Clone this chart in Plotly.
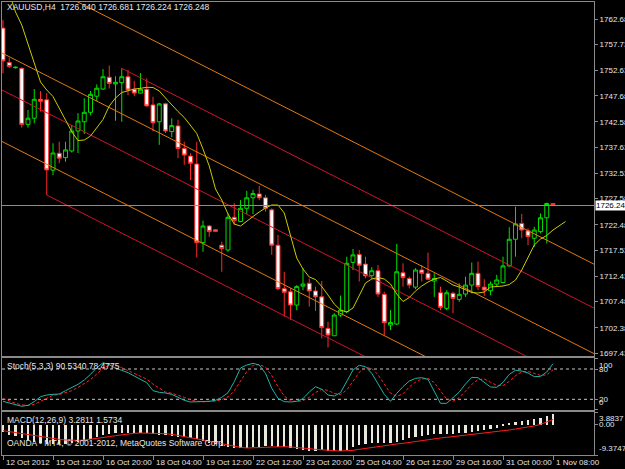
import plotly.graph_objects as go

# ---------------- data ----------------
bars = list(range(89))
opens = [1760.9, 1754.2, 1753.15, 1753.05, 1742.1, 1743.3, 1747.0, 1746.9, 1733.15, 1736.45,
         1735.6, 1736.9, 1740.8, 1742.6, 1744.45, 1747.6, 1749.0, 1751.3, 1750.0, 1750.25,
         1751.4, 1748.95, 1748.2, 1748.95, 1745.9, 1742.6, 1746.1, 1740.7, 1741.8, 1737.4,
         1735.9, 1734.35, 1719.0, 1722.25, 1721.5, 1718.5, 1717.55, 1723.95, 1723.1, 1725.7,
         1727.75, 1728.5, 1727.75, 1725.4, 1718.5, 1710.0, 1709.4, 1706.8, 1710.5, 1711.05,
         1709.55, 1708.4, 1702.25, 1700.8, 1704.85, 1705.5, 1715.15, 1716.7, 1714.8, 1712.55,
         1713.5, 1708.9, 1702.9, 1703.1, 1713.1, 1712.0, 1710.3, 1713.65, 1713.0, 1711.5,
         1709.2, 1706.15, 1709.1, 1707.9, 1708.95, 1710.7, 1713.0, 1710.3, 1709.6, 1710.9,
         1711.2, 1714.45, 1719.65, 1722.75, 1721.3, 1719.85, 1721.15, 1723.85, 1726.640]
highs = [1762.5, 1755.1, 1753.4, 1753.2, 1744.9, 1749.0, 1748.6, 1748.2, 1738.4, 1738.7,
         1738.7, 1742.0, 1744.3, 1747.2, 1748.6, 1749.9, 1752.9, 1753.6, 1751.5, 1753.05,
         1752.7, 1750.6, 1752.1, 1751.1, 1747.5, 1746.3, 1746.3, 1743.3, 1743.0, 1738.7,
         1736.45, 1738.7, 1723.3, 1722.45, 1721.6, 1719.2, 1724.7, 1726.7, 1727.3, 1729.1,
         1729.3, 1730.1, 1728.3, 1725.7, 1720.5, 1713.3, 1710.1, 1710.7, 1714.0, 1712.0,
         1710.4, 1711.5, 1703.55, 1705.2, 1708.65, 1716.25, 1717.75, 1717.55, 1716.25, 1714.2,
         1714.6, 1709.4, 1705.8, 1718.75, 1714.95, 1712.35, 1714.0, 1714.6, 1717.05, 1713.0,
         1710.4, 1709.7, 1709.4, 1711.05, 1712.35, 1715.1, 1715.3, 1711.85, 1711.4, 1712.7,
         1716.25, 1722.0, 1726.0, 1724.6, 1721.8, 1722.1, 1724.7, 1726.8, 1726.681]
lows = [1752.1, 1753.1, 1753.0, 1741.45, 1741.45, 1742.3, 1744.6, 1728.3, 1732.2, 1734.5,
        1734.8, 1736.6, 1736.5, 1740.2, 1743.9, 1746.65, 1748.8, 1749.1, 1742.8, 1742.6,
        1747.8, 1747.6, 1748.1, 1745.55, 1740.7, 1738.1, 1740.4, 1739.6, 1735.5, 1734.2,
        1731.2, 1716.1, 1717.2, 1720.15, 1721.1, 1713.3, 1717.2, 1722.45, 1723.0, 1724.55,
        1724.6, 1727.3, 1725.05, 1716.6, 1709.7, 1704.5, 1703.9, 1705.8, 1709.7, 1706.5,
        1705.65, 1700.3, 1698.5, 1700.8, 1704.5, 1705.2, 1713.65, 1711.4, 1712.05, 1711.85,
        1708.4, 1700.95, 1701.9, 1702.9, 1710.4, 1710.05, 1709.9, 1711.4, 1711.7, 1708.4,
        1705.8, 1705.8, 1705.2, 1707.45, 1708.4, 1709.1, 1709.7, 1708.6, 1708.75, 1710.4,
        1711.05, 1714.3, 1716.25, 1719.85, 1718.5, 1718.2, 1720.8, 1718.85, 1726.224]
closes = [1754.5, 1753.4, 1753.25, 1742.1, 1743.3, 1747.0, 1746.6, 1733.2, 1736.5, 1735.5,
          1737.1, 1740.8, 1742.75, 1744.45, 1747.95, 1749.15, 1751.4, 1750.1, 1750.3, 1751.4,
          1748.8, 1748.2, 1748.95, 1745.7, 1742.4, 1746.1, 1740.8, 1741.85, 1737.4, 1736.1,
          1734.5, 1719.0, 1722.25, 1721.15, 1721.2, 1717.85, 1723.95, 1723.3, 1725.7, 1727.75,
          1728.6, 1727.75, 1725.7, 1718.5, 1710.0, 1709.3, 1706.8, 1710.4, 1710.9, 1709.55,
          1708.4, 1702.4, 1700.95, 1704.85, 1705.8, 1714.95, 1716.6, 1714.6, 1712.5, 1713.5,
          1708.95, 1703.35, 1703.4, 1713.3, 1712.15, 1710.7, 1713.65, 1713.0, 1711.85, 1712.0,
          1706.35, 1709.2, 1708.1, 1708.9, 1710.7, 1713.0, 1710.4, 1709.75, 1710.9, 1711.7,
          1714.45, 1719.65, 1722.65, 1721.45, 1720.15, 1721.45, 1723.85, 1726.64, 1726.248]

# moving average (drawn shifted, one value per bar position 1..90)
ma_bars = list(range(1, 91))
ma_values = [1767.76, 1764.05, 1761.51, 1757.60, 1754.08, 1750.37, 1748.81, 1747.54, 1745.29, 1742.95,
             1740.66, 1738.94, 1739.04, 1739.82, 1741.39, 1743.05, 1745.68, 1747.25, 1748.32, 1748.71,
             1749.00, 1749.14, 1749.34, 1749.30, 1748.61, 1747.25, 1745.88, 1744.61, 1743.44, 1741.97,
             1740.31, 1737.28, 1733.96, 1729.47, 1727.32, 1724.59, 1722.63, 1722.24, 1723.22, 1724.10,
             1724.98, 1725.76, 1726.34, 1726.34, 1724.78, 1720.29, 1715.99, 1713.84, 1712.28, 1711.79,
             1710.42, 1708.76, 1707.00, 1705.83, 1705.44, 1706.22, 1708.76, 1711.11, 1711.89, 1712.18,
             1711.89, 1710.91, 1708.96, 1707.49, 1708.27, 1709.54, 1710.52, 1711.30, 1711.89, 1712.18,
             1711.50, 1710.71, 1710.32, 1709.84, 1709.25, 1709.15, 1709.35, 1710.32, 1710.42, 1710.52,
             1710.81, 1711.69, 1713.65, 1716.09, 1718.53, 1719.70, 1720.39, 1721.46, 1722.34, 1723.12]

# channel lines: (start bar, start price, colour name)
channel_slope = -0.62
channel_starts = [(7, 1728.3, "red"), (-1, 1739.27, "orange"), (-1, 1749.33, "red"),
                  (-1, 1756.56, "orange"), (19, 1753.05, "red"), (-1, 1774.04, "orange")]
channel_end_bar = 96

stoch_main = [16.0, 12.7, 8.1, 6.1, 8.1, 15.3, 25.2, 28.5, 29.8, 30.5,
              37.1, 43.7, 49.6, 58.2, 69.4, 82.6, 92.5, 88.6, 81.3, 77.4,
              72.7, 66.1, 60.2, 52.9, 37.1, 33.8, 32.5, 29.8, 23.9, 18.0,
              14.7, 14.7, 15.3, 16.0, 18.0, 23.9, 33.1, 54.9, 82.0, 87.9,
              91.2, 87.9, 71.4, 41.7, 21.9, 15.3, 14.7, 16.0, 21.3, 34.5,
              45.0, 39.7, 28.5, 26.5, 33.1, 55.6, 78.0, 87.3, 84.6, 71.4,
              50.3, 29.8, 16.0, 31.8, 45.0, 56.2, 61.5, 62.8, 59.5, 37.1,
              12.0, 12.0, 23.9, 34.5, 50.3, 63.5, 62.8, 54.3, 44.4, 43.7,
              53.6, 69.4, 77.4, 76.0, 72.1, 64.8, 65.5, 74.1, 90.534]
stoch_signal = [22.0, 17.0, 12.0, 9.0, 7.5, 10.0, 16.0, 23.0, 28.0, 29.5,
                32.5, 37.0, 43.5, 50.5, 59.0, 70.0, 81.5, 88.0, 87.5, 82.5,
                77.0, 72.0, 66.5, 60.0, 50.0, 41.5, 34.5, 32.0, 28.7, 24.0,
                19.0, 16.0, 15.0, 15.3, 16.5, 19.3, 25.0, 37.0, 56.7, 75.0,
                87.0, 89.0, 83.5, 67.0, 45.0, 26.3, 17.3, 15.3, 17.3, 24.0,
                33.6, 39.7, 37.7, 31.6, 29.4, 38.4, 55.6, 73.6, 83.3, 81.1,
                68.8, 50.5, 32.0, 25.9, 30.9, 44.3, 54.2, 60.2, 61.3, 53.1,
                36.2, 20.4, 16.0, 23.5, 36.2, 49.4, 58.9, 60.2, 53.8, 47.5,
                47.2, 55.6, 66.8, 74.3, 75.2, 71.0, 67.5, 68.1, 78.4775]
stoch_levels = [20, 80]
stoch_scale = [0, 20, 80, 100]

macd_main = [-2.18, -3.21, -3.52, -4.24, -4.75, -5.27, -5.78, -5.98, -6.09, -6.09,
             -5.98, -5.78, -5.37, -4.96, -4.34, -3.72, -3.21, -2.90, -2.69, -2.49,
             -2.49, -2.49, -2.49, -2.69, -3.00, -3.11, -3.21, -3.41, -3.72, -3.93,
             -4.24, -4.54, -4.96, -5.57, -5.98, -6.60, -7.01, -7.32, -7.32, -7.32,
             -7.01, -6.81, -6.60, -6.60, -6.81, -7.01, -7.32, -7.63, -7.83, -8.04,
             -8.04, -7.83, -8.04, -8.14, -8.14, -7.83, -6.81, -6.29, -5.98, -5.78,
             -5.78, -5.78, -5.78, -5.27, -4.75, -4.24, -3.72, -3.41, -3.21, -3.00,
             -3.00, -3.00, -2.90, -2.69, -2.49, -2.18, -1.88, -1.67, -1.46, -1.15,
             -0.50, 0.20, 0.90, 1.20, 1.45, 1.65, 1.95, 2.50, 3.2811]
macd_signal = [-1.87, -2.18, -2.49, -2.80, -3.11, -3.41, -3.72, -4.03, -4.34, -4.54,
               -4.75, -4.85, -4.85, -4.75, -4.54, -4.34, -4.03, -3.72, -3.41, -3.11,
               -2.90, -2.69, -2.59, -2.59, -2.59, -2.69, -2.80, -3.00, -3.31, -3.62,
               -3.93, -4.34, -4.75, -5.16, -5.57, -5.98, -6.39, -6.70, -7.01, -7.22,
               -7.22, -7.11, -7.01, -6.91, -6.81, -6.81, -6.91, -7.01, -7.22, -7.42,
               -7.63, -7.83, -7.94, -8.04, -8.14, -8.14, -7.94, -7.63, -7.32, -7.01,
               -6.70, -6.39, -6.19, -5.98, -5.78, -5.47, -5.16, -4.85, -4.54, -4.34,
               -4.13, -3.93, -3.72, -3.52, -3.31, -3.11, -2.90, -2.69, -2.49, -2.28,
               -1.97, -1.67, -1.36, -1.05, -0.84, -0.43, 0.08, 0.80, 1.5734]
macd_range = [-9.3747, 3.8837]

price_ticks = [1762.68, 1757.73, 1752.63, 1747.68, 1742.58, 1737.63, 1732.53, 1727.58,
               1722.48, 1717.53, 1712.43, 1707.48, 1702.38, 1697.43]
x_tick_bars = [0, 8, 16, 24, 32, 40, 48, 56, 64, 72, 80, 88]
x_tick_labels = ["12 Oct 2012", "15 Oct 12:00", "16 Oct 20:00", "18 Oct 04:00", "19 Oct 12:00",
                 "22 Oct 12:00", "23 Oct 20:00", "25 Oct 04:00", "26 Oct 12:00", "29 Oct 16:00",
                 "31 Oct 00:00", "1 Nov 08:00"]
symbol = "XAUUSD,H4"
copyright_text = "OANDA - MT4, © 2001-2012, MetaQuotes Software Corp."

# ---------------- styling ----------------
FONT = "Liberation Sans"
TXT = "#e6e6e6"
GRAY = "#8a8a8a"
COLORS = {"red": "#d0142c", "orange": "#e27a12"}
W, H = 625, 469
x_dom = [2 / W, 594 / W]
main_dom = [1 - 356 / H, 1 - 2 / H]
stoch_dom = [1 - 410 / H, 1 - 358 / H]
macd_dom = [1 - 455 / H, 1 - 412 / H]
x_range = [-0.16, 94.56]

fig = go.Figure()

# channel lines
for sb, sp, cname in channel_starts:
    fig.add_trace(go.Scatter(
        x=[sb, channel_end_bar], y=[sp, sp + channel_slope * (channel_end_bar - sb)],
        mode="lines", line=dict(color=COLORS[cname], width=1), hoverinfo="skip",
        xaxis="x", yaxis="y"))

fig.add_trace(go.Candlestick(
    x=bars, open=opens, high=highs, low=lows, close=closes,
    increasing=dict(line=dict(color="#00e000", width=1), fillcolor="#000000"),
    decreasing=dict(line=dict(color="#ff2a2a", width=1), fillcolor="#ffffff"),
    whiskerwidth=0, xaxis="x", yaxis="y"))

fig.add_trace(go.Scatter(x=ma_bars, y=ma_values, mode="lines",
                         line=dict(color="#cccc00", width=1), xaxis="x", yaxis="y"))

# stochastic
for lv in stoch_levels:
    fig.add_trace(go.Scatter(x=[x_range[0], x_range[1]], y=[lv, lv], mode="lines",
                             line=dict(color="#c8c8c8", width=1, dash="3px,3px"),
                             xaxis="x2", yaxis="y2"))
fig.add_trace(go.Scatter(x=bars, y=stoch_signal, mode="lines",
                         line=dict(color="#ff2020", width=1, dash="3px,2px"),
                         xaxis="x2", yaxis="y2"))
fig.add_trace(go.Scatter(x=bars, y=stoch_main, mode="lines",
                         line=dict(color="#20b2aa", width=1), xaxis="x2", yaxis="y2"))

# MACD
fig.add_trace(go.Bar(x=bars, y=macd_main, width=0.36, marker=dict(color="#e8e8dc", line=dict(width=0)),
                     xaxis="x3", yaxis="y3"))
fig.add_trace(go.Scatter(x=bars, y=macd_signal, mode="lines",
                         line=dict(color="#ff1a1a", width=1), xaxis="x3", yaxis="y3"))

axis_common = dict(domain=x_dom, range=x_range, showgrid=False, zeroline=False,
                   showline=True, mirror=True, linecolor=GRAY, linewidth=1)
yax_common = dict(side="right", showgrid=False, zeroline=False, showline=True, mirror=True,
                  linecolor=GRAY, linewidth=1, ticks="outside", ticklen=3, tickcolor=GRAY,
                  tickfont=dict(family=FONT, size=8, color=TXT), automargin=False)

fig.update_layout(
    width=W, height=H, margin=dict(l=0, r=0, t=0, b=0),
    paper_bgcolor="#000000", plot_bgcolor="#000000", showlegend=False,
    font=dict(family=FONT, size=8, color=TXT), bargap=0, boxgap=0.1,
    xaxis=dict(axis_common, anchor="y", showticklabels=False, ticks="",
               rangeslider=dict(visible=False)),
    xaxis2=dict(axis_common, anchor="y2", matches="x", showticklabels=False, ticks=""),
    xaxis3=dict(axis_common, anchor="y3", matches="x", ticks="outside", ticklen=4,
                tickcolor=GRAY, tickvals=x_tick_bars, showticklabels=False, automargin=False),
    yaxis=dict(yax_common, domain=main_dom, anchor="x", range=[1696.85, 1766.0],
               tickvals=price_ticks, ticktext=[f"{v:.2f}" for v in price_ticks]),
    yaxis2=dict(yax_common, domain=stoch_dom, anchor="x2", range=[-1.2, 101.8],
                tickvals=stoch_scale, showticklabels=False),
    yaxis3=dict(yax_common, domain=macd_dom, anchor="x3", range=macd_range,
                tickvals=[macd_range[0], 0, macd_range[1]], showticklabels=False),
)

# time labels (left-aligned at their tick, like the terminal)
for b, lab in zip(x_tick_bars, x_tick_labels):
    fig.add_annotation(xref="x3", yref="paper", x=b, y=1 - 462 / H, xanchor="left",
                       yanchor="middle", xshift=1, text=lab, showarrow=False,
                       font=dict(family=FONT, size=8, color=TXT))

# current price line and box
last = closes[-1]
fig.add_shape(type="line", xref="x domain", yref="y", x0=0, x1=1, y0=last, y1=last,
              line=dict(color="#8c8c8c", width=1))
fig.add_annotation(xref="paper", yref="y", x=595 / W, y=last, xanchor="left", yanchor="middle",
                   text=f"{last:.3f}"[:-1], showarrow=False, bgcolor="#ffffff",
                   font=dict(family=FONT, size=8, color="#000000"), borderpad=0)

# stochastic scale labels
anchors = {0: "bottom", 20: "middle", 80: "middle", 100: "top"}
for v in stoch_scale:
    fig.add_annotation(xref="paper", yref="y2", x=597 / W, y=v, xanchor="left", yanchor=anchors[v],
                       text=str(v), showarrow=False, font=dict(family=FONT, size=8, color=TXT))
# MACD scale labels
for v, anc, txt in [(macd_range[1], "top", f"{macd_range[1]:.4f}"), (0, "middle", "0.00"),
                    (macd_range[0], "bottom", f"{macd_range[0]:.4f}")]:
    fig.add_annotation(xref="paper", yref="y3", x=597 / W, y=v, xanchor="left", yanchor=anc,
                       text=txt, showarrow=False, font=dict(family=FONT, size=8, color=TXT))

# indicator captions
captions = [
    (1 - 7 / H, f"{symbol}  {opens[-1]:.3f} {highs[-1]:.3f} {lows[-1]:.3f} {closes[-1]:.3f}"),
    (1 - 366 / H, f"Stoch(5,3,3) {stoch_main[-1]:.4f} {stoch_signal[-1]:.4f}"),
    (1 - 420 / H, f"MACD(12,26,9) {macd_main[-1]:.4f} {macd_signal[-1]:.4f}"),
    (1 - 443 / H, copyright_text),
]
for yy, txt in captions:
    fig.add_annotation(xref="paper", yref="paper", x=5 / W, y=yy, xanchor="left", yanchor="middle",
                       text=txt, showarrow=False, font=dict(family=FONT, size=8.5, color=TXT))

fig.write_html("out.html")
